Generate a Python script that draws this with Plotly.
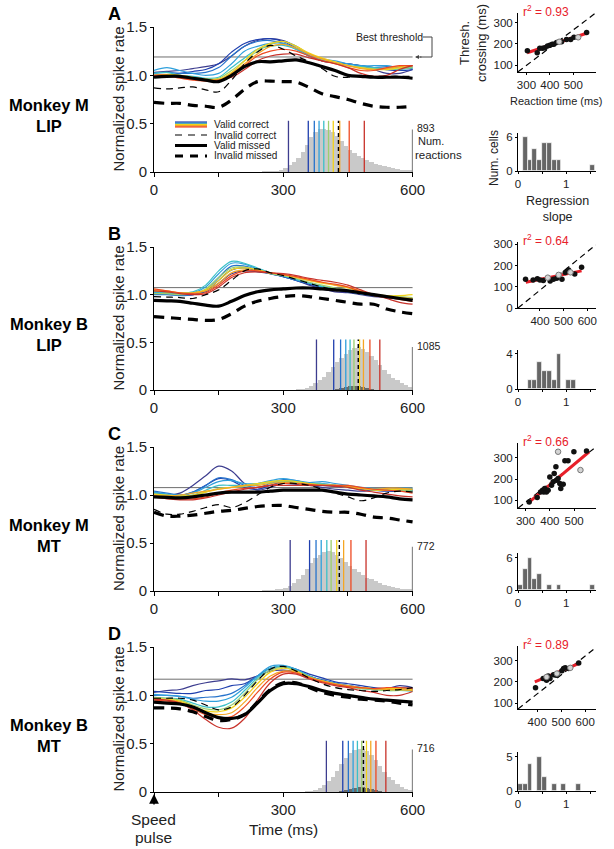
import plotly.graph_objects as go

W, H = 614, 849
def PX(x): return x / W
def PY(y): return 1 - y / H

FONT = "Liberation Sans, Arial, Helvetica, sans-serif"
TXT = "#222222"

# ---------------- common data ----------------
T = [0, 30, 60, 90, 120, 150, 180, 210, 240, 270, 300, 330, 360, 390, 420, 450, 480, 510, 540, 570, 600]
DECILE_COLORS = ["#3d3d8f", "#1f3fae", "#2673cc", "#2fa0dc", "#3cc0c8",
                 "#9ccf6e", "#f2d21a", "#f5a623", "#ee4a22", "#c8322a"]
PANEL_LETTERS = ["A", "B", "C", "D"]
MONKEY = ["Monkey M", "Monkey B", "Monkey M", "Monkey B"]
AREA = ["LIP", "LIP", "MT", "MT"]
COUNT_LABELS = ["893", "1085", "772", "716"]
R2_LABELS = ["0.93", "0.64", "0.66", "0.89"]
MAIN_XTICKTEXT = [["0", "", "300", "", "600"], ["0", "", "300", "", "600"],
                  ["0", "", "300", "", "600"], ["", "", "300", "", "600"]]

# ---------------- Panel A : Monkey M LIP ----------------
A_valid_correct = [
    [1.03, 1.04, 1.05, 1.07, 1.09, 1.12, 1.20, 1.30, 1.36, 1.38, 1.36, 1.30, 1.22, 1.17, 1.13, 1.12, 1.10, 1.06, 1.02, 1.02, 1.06],
    [1.00, 1.00, 1.02, 1.04, 1.06, 1.12, 1.24, 1.33, 1.37, 1.38, 1.35, 1.28, 1.20, 1.15, 1.13, 1.12, 1.10, 1.08, 1.06, 1.05, 1.06],
    [1.02, 1.03, 1.02, 1.02, 1.03, 1.08, 1.20, 1.30, 1.35, 1.36, 1.33, 1.27, 1.20, 1.15, 1.13, 1.12, 1.10, 1.08, 1.09, 1.08, 1.07],
    [1.05, 1.08, 1.05, 1.02, 1.00, 1.02, 1.12, 1.25, 1.30, 1.33, 1.33, 1.28, 1.22, 1.17, 1.15, 1.12, 1.10, 1.10, 1.10, 1.08, 1.09],
    [1.02, 1.03, 1.00, 0.99, 0.97, 0.98, 1.08, 1.18, 1.27, 1.30, 1.31, 1.27, 1.20, 1.16, 1.13, 1.10, 1.09, 1.08, 1.07, 1.06, 1.08],
    [1.00, 1.00, 1.00, 0.98, 0.96, 0.97, 1.05, 1.15, 1.25, 1.32, 1.35, 1.30, 1.22, 1.17, 1.13, 1.10, 1.08, 1.07, 1.06, 1.07, 1.08],
    [1.00, 1.01, 1.00, 0.98, 0.96, 0.96, 1.03, 1.15, 1.27, 1.33, 1.35, 1.30, 1.23, 1.18, 1.14, 1.10, 1.08, 1.06, 1.06, 1.08, 1.10],
    [1.00, 1.00, 0.99, 0.97, 0.95, 0.95, 1.02, 1.12, 1.22, 1.30, 1.32, 1.28, 1.22, 1.17, 1.13, 1.10, 1.07, 1.06, 1.07, 1.09, 1.10],
    [0.98, 0.99, 0.97, 0.95, 0.94, 0.94, 1.00, 1.10, 1.20, 1.25, 1.27, 1.25, 1.20, 1.15, 1.12, 1.08, 1.05, 1.05, 1.08, 1.10, 1.10],
    [1.00, 1.00, 0.98, 0.96, 0.95, 0.95, 0.98, 1.06, 1.15, 1.20, 1.22, 1.22, 1.18, 1.15, 1.12, 1.08, 1.02, 0.99, 1.00, 1.06, 1.10],
]
A_invalid_correct = [0.87, 0.86, 0.87, 0.88, 0.85, 0.83, 0.95, 1.12, 1.24, 1.31, 1.27, 1.20, 1.14, 1.07, 0.99, 0.98, 1.00, 0.99, 0.99, 0.99, 0.99]
A_valid_missed = [0.98, 0.99, 0.99, 0.97, 0.95, 0.935, 1.00, 1.09, 1.14, 1.14, 1.15, 1.16, 1.13, 1.09, 1.05, 1.00, 0.99, 0.98, 0.98, 0.98, 0.97]
A_invalid_missed = [0.72, 0.71, 0.71, 0.69, 0.68, 0.67, 0.745, 0.855, 0.935, 0.94, 0.935, 0.93, 0.875, 0.81, 0.78, 0.75, 0.71, 0.68, 0.67, 0.67, 0.68]
A_threshold = 1.19
A_rt_marks = [312, 358, 372, 383, 394, 405, 416, 431, 453, 488]
A_rt_invalid = 428
A_hist_start = 250
A_hist = [0.003, 0.005, 0.007, 0.01, 0.02, 0.04, 0.07, 0.10, 0.15, 0.21, 0.28, 0.36, 0.41, 0.44, 0.44, 0.43,
          0.41, 0.37, 0.32, 0.27, 0.23, 0.20, 0.17, 0.14, 0.12, 0.10, 0.08, 0.07, 0.06, 0.05, 0.04, 0.03,
          0.025, 0.02, 0.015]
A_inv_hist_start = 420
A_inv_hist = []

# ---------------- Panel B : Monkey B LIP ----------------
B_valid_correct = [
    [1.03, 1.02, 1.01, 1.00, 1.03, 1.12, 1.22, 1.25, 1.24, 1.22, 1.19, 1.15, 1.10, 1.06, 1.03, 1.02, 1.00, 0.98, 0.97, 0.96, 0.95],
    [1.02, 1.01, 1.00, 1.00, 1.04, 1.15, 1.26, 1.28, 1.25, 1.22, 1.19, 1.15, 1.11, 1.07, 1.05, 1.03, 1.01, 0.99, 0.97, 0.96, 0.95],
    [1.00, 1.00, 0.99, 1.00, 1.05, 1.18, 1.30, 1.30, 1.26, 1.22, 1.19, 1.15, 1.12, 1.08, 1.05, 1.03, 1.01, 0.99, 0.98, 0.97, 0.96],
    [1.02, 1.01, 1.01, 1.02, 1.08, 1.22, 1.33, 1.32, 1.27, 1.23, 1.20, 1.16, 1.12, 1.08, 1.06, 1.04, 1.02, 1.00, 0.98, 0.97, 0.96],
    [1.03, 1.02, 1.02, 1.03, 1.10, 1.25, 1.35, 1.33, 1.28, 1.23, 1.20, 1.16, 1.12, 1.09, 1.06, 1.04, 1.01, 0.99, 0.97, 0.95, 0.95],
    [1.01, 1.01, 1.00, 1.01, 1.06, 1.18, 1.28, 1.29, 1.26, 1.22, 1.20, 1.17, 1.13, 1.10, 1.07, 1.05, 1.02, 1.00, 0.99, 0.98, 0.97],
    [1.04, 1.03, 1.02, 1.02, 1.05, 1.15, 1.26, 1.28, 1.26, 1.23, 1.21, 1.18, 1.15, 1.12, 1.10, 1.07, 1.03, 1.00, 0.99, 0.99, 1.00],
    [1.05, 1.04, 1.02, 1.02, 1.04, 1.12, 1.23, 1.26, 1.25, 1.23, 1.21, 1.18, 1.15, 1.13, 1.10, 1.08, 1.04, 1.00, 0.98, 0.97, 0.96],
    [1.06, 1.04, 1.02, 1.01, 1.02, 1.10, 1.20, 1.25, 1.25, 1.23, 1.21, 1.19, 1.16, 1.13, 1.11, 1.08, 1.03, 0.99, 0.97, 0.95, 0.93],
    [1.04, 1.03, 1.01, 1.00, 1.01, 1.08, 1.18, 1.23, 1.24, 1.23, 1.22, 1.20, 1.17, 1.15, 1.13, 1.10, 1.05, 1.00, 0.96, 0.92, 0.90],
]
B_invalid_correct = [0.98, 0.975, 0.97, 0.96, 1.00, 1.05, 1.15, 1.25, 1.27, 1.23, 1.20, 1.16, 1.12, 1.08, 1.05, 1.04, 1.02, 0.99, 0.98, 0.96, 0.95]
B_valid_missed = [0.94, 0.935, 0.93, 0.91, 0.89, 0.88, 0.93, 0.99, 1.03, 1.05, 1.06, 1.07, 1.07, 1.06, 1.05, 1.04, 1.02, 1.00, 0.98, 0.96, 0.94]
B_invalid_missed = [0.77, 0.76, 0.75, 0.74, 0.73, 0.74, 0.80, 0.88, 0.93, 0.96, 0.98, 0.99, 0.98, 0.96, 0.94, 0.92, 0.90, 0.90, 0.85, 0.82, 0.80]
B_threshold = 1.074
B_rt_marks = [377, 417, 433, 445, 455, 464, 477, 486, 501, 524]
B_rt_invalid = 474
B_hist_start = 330
B_hist = [0.005, 0.01, 0.02, 0.04, 0.07, 0.10, 0.14, 0.19, 0.24, 0.29, 0.34, 0.38, 0.42, 0.44, 0.45, 0.43,
          0.40, 0.36, 0.31, 0.26, 0.21, 0.17, 0.13, 0.10, 0.07, 0.05, 0.03]
B_inv_hist_start = 420
B_inv_hist = [0.01, 0.02, 0.03, 0.04, 0.04, 0.04, 0.03, 0.02, 0.01]

# ---------------- Panel C : Monkey M MT ----------------
C_valid_correct = [
    [1.02, 1.00, 1.02, 1.10, 1.20, 1.30, 1.25, 1.12, 1.05, 1.08, 1.12, 1.11, 1.10, 1.08, 1.06, 1.05, 1.04, 1.05, 1.06, 1.05, 1.04],
    [1.03, 1.00, 0.99, 1.03, 1.10, 1.17, 1.15, 1.08, 1.06, 1.10, 1.14, 1.13, 1.11, 1.10, 1.09, 1.08, 1.06, 1.05, 1.04, 1.04, 1.05],
    [1.04, 1.02, 1.00, 1.03, 1.10, 1.18, 1.16, 1.10, 1.08, 1.12, 1.16, 1.15, 1.12, 1.12, 1.10, 1.08, 1.06, 1.05, 1.05, 1.06, 1.06],
    [1.03, 1.01, 1.00, 1.02, 1.08, 1.14, 1.15, 1.12, 1.12, 1.15, 1.17, 1.15, 1.13, 1.14, 1.12, 1.10, 1.08, 1.07, 1.06, 1.07, 1.07],
    [1.02, 1.00, 0.99, 1.00, 1.05, 1.10, 1.10, 1.10, 1.12, 1.14, 1.15, 1.14, 1.12, 1.12, 1.10, 1.08, 1.07, 1.06, 1.06, 1.05, 1.05],
    [1.00, 0.99, 0.98, 0.99, 1.03, 1.07, 1.08, 1.09, 1.11, 1.13, 1.14, 1.13, 1.12, 1.11, 1.10, 1.09, 1.07, 1.06, 1.05, 1.05, 1.04],
    [1.01, 1.00, 0.99, 1.00, 1.03, 1.06, 1.08, 1.10, 1.12, 1.14, 1.15, 1.14, 1.12, 1.10, 1.10, 1.08, 1.07, 1.05, 1.05, 1.06, 1.06],
    [1.00, 0.99, 1.00, 1.02, 1.04, 1.06, 1.08, 1.10, 1.10, 1.12, 1.13, 1.12, 1.10, 1.10, 1.10, 1.09, 1.07, 1.06, 1.07, 1.07, 1.06],
    [0.99, 0.97, 0.96, 0.96, 0.98, 1.02, 1.05, 1.07, 1.08, 1.10, 1.12, 1.12, 1.11, 1.10, 1.10, 1.10, 1.08, 1.06, 1.05, 1.04, 1.02],
    [0.98, 0.96, 0.95, 0.95, 0.97, 1.00, 1.03, 1.06, 1.08, 1.10, 1.10, 1.10, 1.10, 1.10, 1.09, 1.08, 1.05, 1.03, 1.01, 0.99, 0.98],
]
C_invalid_correct = [0.85, 0.80, 0.80, 0.83, 0.87, 0.90, 0.87, 0.92, 1.00, 1.08, 1.12, 1.12, 1.10, 1.06, 1.02, 0.98, 0.94, 0.97, 1.02, 1.04, 1.03]
C_valid_missed = [0.98, 0.975, 0.97, 0.98, 1.00, 1.02, 1.03, 1.03, 1.03, 1.04, 1.05, 1.05, 1.05, 1.05, 1.03, 1.01, 1.00, 0.99, 0.98, 0.96, 0.95]
C_invalid_missed = [0.82, 0.78, 0.78, 0.79, 0.81, 0.83, 0.84, 0.86, 0.88, 0.89, 0.89, 0.87, 0.85, 0.83, 0.82, 0.82, 0.80, 0.77, 0.76, 0.74, 0.72]
C_threshold = 1.077
C_rt_marks = [316, 361, 376, 388, 401, 411, 424, 440, 457, 492]
C_rt_invalid = 430
C_hist_start = 250
C_hist = [0.005, 0.008, 0.01, 0.015, 0.02, 0.03, 0.05, 0.08, 0.12, 0.17, 0.23, 0.29, 0.34, 0.38, 0.41, 0.42,
          0.41, 0.38, 0.34, 0.30, 0.26, 0.23, 0.20, 0.17, 0.14, 0.12, 0.10, 0.08, 0.06, 0.05, 0.04, 0.03,
          0.025, 0.02, 0.015]
C_inv_hist_start = 400
C_inv_hist = []

# ---------------- Panel D : Monkey B MT ----------------
D_valid_correct = [
    [1.03, 1.05, 1.06, 1.10, 1.13, 1.15, 1.17, 1.16, 1.20, 1.25, 1.26, 1.24, 1.20, 1.15, 1.12, 1.10, 1.08, 1.06, 1.07, 1.10, 1.08],
    [1.04, 1.03, 1.02, 1.02, 1.05, 1.06, 1.10, 1.12, 1.20, 1.28, 1.30, 1.27, 1.22, 1.18, 1.14, 1.12, 1.10, 1.08, 1.07, 1.08, 1.07],
    [1.00, 1.00, 0.99, 0.97, 0.98, 0.99, 1.02, 1.10, 1.20, 1.28, 1.30, 1.27, 1.20, 1.16, 1.13, 1.10, 1.08, 1.07, 1.06, 1.07, 1.06],
    [1.01, 1.00, 0.99, 0.96, 0.94, 0.94, 0.98, 1.08, 1.20, 1.30, 1.31, 1.27, 1.20, 1.15, 1.12, 1.10, 1.08, 1.07, 1.06, 1.06, 1.05],
    [0.98, 0.97, 0.96, 0.92, 0.88, 0.88, 0.93, 1.05, 1.18, 1.28, 1.30, 1.26, 1.20, 1.15, 1.12, 1.09, 1.07, 1.06, 1.05, 1.05, 1.04],
    [0.98, 0.97, 0.95, 0.90, 0.86, 0.85, 0.90, 1.02, 1.16, 1.26, 1.29, 1.25, 1.19, 1.14, 1.11, 1.09, 1.07, 1.06, 1.05, 1.05, 1.05],
    [0.97, 0.96, 0.94, 0.89, 0.84, 0.83, 0.87, 0.98, 1.12, 1.24, 1.28, 1.25, 1.19, 1.15, 1.12, 1.09, 1.08, 1.07, 1.07, 1.07, 1.06],
    [0.96, 0.95, 0.93, 0.87, 0.82, 0.80, 0.82, 0.93, 1.08, 1.20, 1.25, 1.24, 1.19, 1.15, 1.12, 1.10, 1.08, 1.07, 1.06, 1.06, 1.05],
    [0.95, 0.94, 0.92, 0.86, 0.80, 0.77, 0.78, 0.88, 1.03, 1.17, 1.24, 1.23, 1.18, 1.14, 1.11, 1.09, 1.08, 1.07, 1.08, 1.08, 1.07],
    [0.96, 0.95, 0.92, 0.85, 0.75, 0.67, 0.66, 0.76, 0.95, 1.13, 1.22, 1.22, 1.17, 1.13, 1.10, 1.08, 1.05, 1.03, 1.00, 1.00, 1.04],
]
D_invalid_correct = [0.97, 0.97, 0.97, 0.95, 0.90, 0.85, 0.88, 1.00, 1.15, 1.27, 1.30, 1.25, 1.18, 1.12, 1.08, 1.06, 1.05, 1.04, 1.05, 1.06, 1.08]
D_valid_missed = [0.93, 0.92, 0.91, 0.88, 0.82, 0.77, 0.76, 0.80, 0.92, 1.05, 1.12, 1.12, 1.09, 1.05, 1.02, 1.00, 0.98, 0.96, 0.95, 0.94, 0.93]
D_invalid_missed = [0.87, 0.87, 0.86, 0.83, 0.78, 0.74, 0.75, 0.80, 0.93, 1.06, 1.13, 1.13, 1.08, 1.03, 1.00, 0.98, 0.96, 0.95, 0.94, 0.92, 0.90]
D_threshold = 1.167
D_rt_marks = [400, 438, 451, 462, 472, 482, 493, 503, 515, 538]
D_rt_invalid = 486
D_hist_start = 350
D_hist = [0.005, 0.01, 0.02, 0.04, 0.07, 0.11, 0.16, 0.22, 0.29, 0.35, 0.40, 0.43, 0.44, 0.44, 0.42, 0.38,
          0.33, 0.27, 0.21, 0.16, 0.12, 0.08, 0.05, 0.03, 0.02]
D_inv_hist_start = 430
D_inv_hist = [0.01, 0.02, 0.03, 0.04, 0.05, 0.05, 0.04, 0.03, 0.02, 0.01]

RT_MARK_TOP = 0.53
COUNT_LINE_TOP = [0.44, 0.45, 0.46, 0.44]

# ---------------- scatter (threshold crossing vs RT) ----------------
A_rt = [304, 346, 357, 369, 379, 390, 400, 410, 417, 429, 450, 471, 489, 503, 557]
A_cross = [168, 158, 179, 179, 182, 190, 194, 198, 198, 206, 210, 221, 221, 231, 254]
A_rt_open = [440, 521]
A_cross_open = [210, 231]
A_fit_x = [303, 557]
A_fit_y = [158, 250]
A_diag_x = [264, 593]
A_diag_y = [68, 344]

B_rt = [339, 371, 389, 400, 414, 443, 457, 471, 493, 507, 521, 547, 576]
B_cross = [136, 132, 138, 132, 129, 127, 136, 140, 135, 167, 179, 160, 192]
B_rt_open = [433, 479, 529]
B_cross_open = [143, 156, 168]
B_fit_x = [340, 576]
B_fit_y = [121, 175]
B_diag_x = [307, 636]
B_diag_y = [0, 297]

C_rt = [315, 348, 362, 370, 375, 379, 386, 393, 400, 407, 414, 418, 425, 427, 434, 441, 445, 455, 462, 475, 499, 551]
C_cross = [92, 113, 139, 147, 139, 155, 139, 147, 210, 171, 187, 226, 257, 194, 202, 179, 155, 176, 286, 286, 328, 331]
C_rt_open = [434, 526]
C_cross_open = [328, 242]
C_fit_x = [315, 562]
C_fit_y = [92, 328]
C_diag_x = [270, 588]
C_diag_y = [64, 349]

D_rt = [393, 425, 439, 446, 453, 468, 479, 485, 503, 510, 517, 531, 573]
D_cross = [172, 216, 208, 227, 216, 234, 231, 239, 252, 263, 267, 263, 289]
D_rt_open = [439, 482, 538]
D_cross_open = [223, 239, 266]
D_fit_x = [390, 580]
D_fit_y = [200, 289]
D_diag_x = [320, 644]
D_diag_y = [72, 361]

# ---------------- regression slope histograms (bins of 0.1 from 0 to 1.6) ----------------
SLOPE_BIN_LEFT = [0.0, 0.1, 0.2, 0.3, 0.4, 0.5, 0.6, 0.7, 0.8, 0.9, 1.0, 1.1, 1.2, 1.3, 1.4, 1.5]
A_slopes = [0, 6, 2, 4, 2, 5, 5, 2, 2, 0, 0, 0, 0, 0, 0, 1]
B_slopes = [0, 0, 1, 1, 3, 2, 2, 1, 4, 0, 1, 1, 0, 0, 0, 0]
C_slopes = [1, 4, 6, 2, 3, 0, 1, 0, 1, 0, 0, 0, 0, 0, 0, 1]
D_slopes = [1, 1, 4, 0, 5, 2, 0, 1, 0, 1, 0, 0, 1, 0, 0, 0]

# ---------------- layout geometry (pixels) ----------------
MAIN_X = (154, 413)
MAIN_Y = [(27, 172), (247, 390), (447, 591), (647, 792)]
RIGHT_X = (518, 596)
SCAT_Y = [(13, 72), (242, 308), (443, 508), (646, 709)]
HIST_Y = [(133, 171), (350, 389), (553, 590), (752, 791)]
SCAT_XR = [[264, 597], [307, 637], [269, 590], [320, 645]]
SCAT_YR = [[67, 346], [0, 311], [64, 369], [72, 369]]
SCAT_XT = [[300, 400, 500], [400, 500, 600], [300, 400, 500], [400, 500, 600]]
SCAT_YT = [[100, 200, 300], [0, 100, 200, 300], [100, 200, 300], [100, 200, 300]]
HIST_YR = [[0, 6.76], [0, 4.4], [0, 6.9], [0, 5.7]]
HIST_YT = [[0, 6], [0, 4], [0, 6], [0, 5]]

panels = [
    dict(vc=A_valid_correct, ic=A_invalid_correct, vm=A_valid_missed, im=A_invalid_missed, th=A_threshold,
         rt=A_rt_marks, rti=A_rt_invalid, hs=A_hist_start, h=A_hist, ihs=A_inv_hist_start, ih=A_inv_hist,
         sx=A_rt, sy=A_cross, ox=A_rt_open, oy=A_cross_open, fx=A_fit_x, fy=A_fit_y, dx=A_diag_x, dy=A_diag_y,
         sl=A_slopes),
    dict(vc=B_valid_correct, ic=B_invalid_correct, vm=B_valid_missed, im=B_invalid_missed, th=B_threshold,
         rt=B_rt_marks, rti=B_rt_invalid, hs=B_hist_start, h=B_hist, ihs=B_inv_hist_start, ih=B_inv_hist,
         sx=B_rt, sy=B_cross, ox=B_rt_open, oy=B_cross_open, fx=B_fit_x, fy=B_fit_y, dx=B_diag_x, dy=B_diag_y,
         sl=B_slopes),
    dict(vc=C_valid_correct, ic=C_invalid_correct, vm=C_valid_missed, im=C_invalid_missed, th=C_threshold,
         rt=C_rt_marks, rti=C_rt_invalid, hs=C_hist_start, h=C_hist, ihs=C_inv_hist_start, ih=C_inv_hist,
         sx=C_rt, sy=C_cross, ox=C_rt_open, oy=C_cross_open, fx=C_fit_x, fy=C_fit_y, dx=C_diag_x, dy=C_diag_y,
         sl=C_slopes),
    dict(vc=D_valid_correct, ic=D_invalid_correct, vm=D_valid_missed, im=D_invalid_missed, th=D_threshold,
         rt=D_rt_marks, rti=D_rt_invalid, hs=D_hist_start, h=D_hist, ihs=D_inv_hist_start, ih=D_inv_hist,
         sx=D_rt, sy=D_cross, ox=D_rt_open, oy=D_cross_open, fx=D_fit_x, fy=D_fit_y, dx=D_diag_x, dy=D_diag_y,
         sl=D_slopes),
]

fig = go.Figure()
layout = {}
annotations = []
shapes = []

def axname(n, kind):
    return kind if n == 1 else f"{kind}{n}"

def base_axis(**kw):
    d = dict(showgrid=False, zeroline=False, showline=True, linecolor="black", linewidth=1,
             ticks="outside", ticklen=3, tickcolor="black", tickwidth=1, tickangle=0,
             tickfont=dict(size=15, color=TXT, family=FONT), fixedrange=True, automargin=False)
    d.update(kw)
    return d

SMALL_TICK = dict(size=11.5, color=TXT, family=FONT)

def ann(x, y, text, size=14, bold=False, color=TXT, angle=0, xanchor="center", yanchor="middle"):
    annotations.append(dict(x=PX(x), y=PY(y), xref="paper", yref="paper", text=f"<b>{text}</b>" if bold else text,
                            showarrow=False, textangle=angle, xanchor=xanchor, yanchor=yanchor,
                            font=dict(size=size, color=color, family=FONT)))

for i, p in enumerate(panels):
    nm = i + 1          # main
    ns = i + 5          # scatter
    nh = i + 9          # slope histogram
    xm, ym = f"x{nm if nm > 1 else ''}", f"y{nm if nm > 1 else ''}"
    xs, ys = f"x{ns}", f"y{ns}"
    xh, yh = f"x{nh}", f"y{nh}"

    # ---- main panel ----
    hx = [p["hs"] + 10 * k + 5 for k in range(len(p["h"]))]
    fig.add_trace(go.Bar(x=hx, y=p["h"], width=10, marker=dict(color="#c9c9c9", line=dict(width=0)),
                         xaxis=xm, yaxis=ym, showlegend=False, hoverinfo="skip"))
    if p["ih"]:
        ihx = [p["ihs"] + 10 * k + 5 for k in range(len(p["ih"]))]
        fig.add_trace(go.Bar(x=ihx, y=p["ih"], width=10, marker=dict(color="#6a6a6a", line=dict(width=0)),
                             xaxis=xm, yaxis=ym, showlegend=False, hoverinfo="skip"))
    fig.add_trace(go.Scatter(x=[600, 600], y=[0, COUNT_LINE_TOP[i]], mode="lines",
                             line=dict(color="#8a8a8a", width=1.5), xaxis=xm, yaxis=ym,
                             showlegend=False, hoverinfo="skip"))
    for k, t in enumerate(p["rt"]):
        fig.add_trace(go.Scatter(x=[t, t], y=[0, RT_MARK_TOP], mode="lines",
                                 line=dict(color=DECILE_COLORS[k], width=1.3), xaxis=xm, yaxis=ym,
                                 showlegend=False, hoverinfo="skip"))
    fig.add_trace(go.Scatter(x=[p["rti"], p["rti"]], y=[0, RT_MARK_TOP], mode="lines",
                             line=dict(color="black", width=1.4, dash="4px,3px"), xaxis=xm, yaxis=ym,
                             showlegend=False, hoverinfo="skip"))
    fig.add_trace(go.Scatter(x=[0, 600], y=[p["th"], p["th"]], mode="lines",
                             line=dict(color="#6e6e6e", width=1), xaxis=xm, yaxis=ym,
                             showlegend=False, hoverinfo="skip"))
    for k, series in enumerate(p["vc"]):
        fig.add_trace(go.Scatter(x=T, y=series, mode="lines", line=dict(color=DECILE_COLORS[k], width=1.2, shape="spline"),
                                 xaxis=xm, yaxis=ym, showlegend=False, hoverinfo="skip"))
    fig.add_trace(go.Scatter(x=T, y=p["ic"], mode="lines", line=dict(color="black", width=1.2, dash="7px,5px", shape="spline"),
                             xaxis=xm, yaxis=ym, showlegend=False, hoverinfo="skip"))
    fig.add_trace(go.Scatter(x=T, y=p["im"], mode="lines", line=dict(color="black", width=3.2, dash="10px,7px", shape="spline"),
                             xaxis=xm, yaxis=ym, showlegend=False, hoverinfo="skip"))
    fig.add_trace(go.Scatter(x=T, y=p["vm"], mode="lines", line=dict(color="black", width=3.2, shape="spline"),
                             xaxis=xm, yaxis=ym, showlegend=False, hoverinfo="skip"))

    y0, y1 = MAIN_Y[i]
    layout[axname(nm, "xaxis")] = base_axis(domain=[PX(MAIN_X[0]), PX(MAIN_X[1])], range=[0, 601], anchor=ym,
                                            tickvals=[0, 150, 300, 450, 600], ticktext=MAIN_XTICKTEXT[i],
                                            ticklen=4)
    layout[axname(nm, "yaxis")] = base_axis(domain=[PY(y1), PY(y0)], range=[0, 1.5], anchor=xm,
                                            tickvals=[0, 0.5, 1.0, 1.5], ticktext=["0", "0.5", "1.0", "1.5"])

    # ---- scatter panel ----
    fig.add_trace(go.Scatter(x=p["dx"], y=p["dy"], mode="lines", line=dict(color="black", width=1.2, dash="6px,4px"),
                             xaxis=xs, yaxis=ys, showlegend=False, hoverinfo="skip"))
    fig.add_trace(go.Scatter(x=p["fx"], y=p["fy"], mode="lines", line=dict(color="#e8202a", width=3),
                             xaxis=xs, yaxis=ys, showlegend=False, hoverinfo="skip"))
    fig.add_trace(go.Scatter(x=p["sx"], y=p["sy"], mode="markers", marker=dict(color="#111111", size=5.5),
                             xaxis=xs, yaxis=ys, showlegend=False, hoverinfo="skip"))
    fig.add_trace(go.Scatter(x=p["ox"], y=p["oy"], mode="markers",
                             marker=dict(color="#d4d4d4", size=5.5, line=dict(color="#777777", width=1)),
                             xaxis=xs, yaxis=ys, showlegend=False, hoverinfo="skip"))
    sy0, sy1 = SCAT_Y[i]
    layout[axname(ns, "xaxis")] = base_axis(domain=[PX(RIGHT_X[0]), PX(RIGHT_X[1])], range=SCAT_XR[i], anchor=ys,
                                            tickvals=SCAT_XT[i], tickfont=SMALL_TICK, ticklen=2)
    layout[axname(ns, "yaxis")] = base_axis(domain=[PY(sy1), PY(sy0)], range=SCAT_YR[i], anchor=xs,
                                            tickvals=SCAT_YT[i], tickfont=SMALL_TICK, ticklen=2)

    # ---- slope histogram ----
    fig.add_trace(go.Bar(x=[b + 0.05 for b in SLOPE_BIN_LEFT], y=p["sl"], width=0.1,
                         marker=dict(color="#666666", line=dict(color="white", width=0.7)),
                         xaxis=xh, yaxis=yh, showlegend=False, hoverinfo="skip"))
    hy0, hy1 = HIST_Y[i]
    layout[axname(nh, "xaxis")] = base_axis(domain=[PX(RIGHT_X[0]), PX(RIGHT_X[1])], range=[0, 1.62], anchor=yh,
                                            tickvals=[0, 0.5, 1, 1.5], ticktext=["0", "", "1", ""],
                                            tickfont=SMALL_TICK, ticklen=2)
    layout[axname(nh, "yaxis")] = base_axis(domain=[PY(hy1), PY(hy0)], range=HIST_YR[i], anchor=xh,
                                            tickvals=HIST_YT[i], tickfont=SMALL_TICK, ticklen=2)

    # ---- texts ----
    ann(114, y0 - 13, PANEL_LETTERS[i], size=18, bold=True, color="black")
    ann(49, (y0 + y1) / 2 + 16, f"{MONKEY[i]}<br>{AREA[i]}", size=16.5, bold=True, color="black")
    ann(118, (y0 + y1) / 2, "Normalized spike rate", size=15, angle=-90)
    ann(415, y1 - COUNT_LINE_TOP[i] * (y1 - y0) / 1.5 - 1, COUNT_LABELS[i], size=10.5, xanchor="left")
    ann(521, sy0 - 2, f"r<sup>2</sup> = {R2_LABELS[i]}", size=12, color="#e8202a", xanchor="left")

ann(431, 141, "Num.", size=11)
ann(438, 155, "reactions", size=11.5)
ann(390, 37, "Best threshold", size=10.5)
ann(473, 43, "Thresh.<br>crossing (ms)", size=13, angle=-90)
ann(556, 101, "Reaction time (ms)", size=11)
ann(494, 158, "Num. cells", size=12, angle=-90)
ann(557, 209, "Regression<br>slope", size=12.5)
ann(283, 829, "Time (ms)", size=15.5)
ann(153, 819, "Speed", size=15.5)
ann(153, 837, "pulse", size=15.5)

# Speed pulse arrow
annotations.append(dict(x=PX(154), y=PY(794), xref="paper", yref="paper", text="", showarrow=True,
                        ax=0, ay=12, arrowhead=2, arrowsize=1.3, arrowwidth=1.5, arrowcolor="black"))
# Best threshold bracket
shapes.append(dict(type="path", xref="paper", yref="paper",
                   path=f"M {PX(423)},{PY(37)} L {PX(432)},{PY(37)} L {PX(432)},{PY(57)} L {PX(420)},{PY(57)}",
                   line=dict(color="#444444", width=1)))
annotations.append(dict(x=PX(415), y=PY(57), xref="paper", yref="paper", text="", showarrow=True,
                        ax=8, ay=0, arrowhead=2, arrowsize=0.8, arrowwidth=1, arrowcolor="#444444"))

# Legend (panel A)
LEG_X0, LEG_X1, LEG_TX = 175, 207, 212
LEG_ROWS = [124.5, 135, 145.5, 156]
LEG_LABELS = ["Valid correct", "Invalid correct", "Valid missed", "Invalid missed"]
LEG_STRIPES = ["#1f3fae", "#2fa0dc", "#f2d21a", "#f5a623", "#ee4a22"]
for k, c in enumerate(LEG_STRIPES):
    yy = LEG_ROWS[0] - 2.4 + 1.2 * k
    shapes.append(dict(type="line", xref="paper", yref="paper", x0=PX(LEG_X0), x1=PX(LEG_X1),
                       y0=PY(yy), y1=PY(yy), line=dict(color=c, width=1.4)))
shapes.append(dict(type="line", xref="paper", yref="paper", x0=PX(LEG_X0), x1=PX(LEG_X1),
                   y0=PY(LEG_ROWS[1]), y1=PY(LEG_ROWS[1]), line=dict(color="black", width=1.2, dash="7px,6px")))
shapes.append(dict(type="line", xref="paper", yref="paper", x0=PX(LEG_X0), x1=PX(LEG_X1),
                   y0=PY(LEG_ROWS[2]), y1=PY(LEG_ROWS[2]), line=dict(color="black", width=3)))
shapes.append(dict(type="line", xref="paper", yref="paper", x0=PX(LEG_X0), x1=PX(LEG_X1),
                   y0=PY(LEG_ROWS[3]), y1=PY(LEG_ROWS[3]), line=dict(color="black", width=3, dash="8px,7px")))
for k, lab in enumerate(LEG_LABELS):
    ann(LEG_TX, LEG_ROWS[k], lab, size=10, xanchor="left")

fig.update_layout(
    width=W, height=H, margin=dict(l=0, r=0, t=0, b=0, pad=0, autoexpand=False),
    paper_bgcolor="white", plot_bgcolor="white",
    font=dict(family=FONT, color=TXT),
    barmode="overlay", bargap=0,
    showlegend=False,
    annotations=annotations, shapes=shapes,
    **layout,
)

fig.write_html("out.html", config={"displayModeBar": False},
               post_script="document.body.style.margin='0';document.body.style.overflow='hidden';")
